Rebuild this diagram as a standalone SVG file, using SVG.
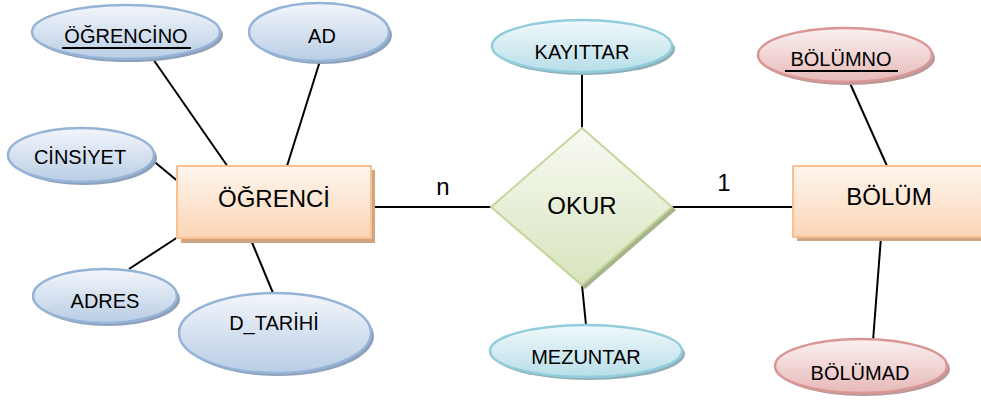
<svg xmlns="http://www.w3.org/2000/svg" width="981" height="405" viewBox="0 0 981 405">
<defs>
<linearGradient id="gBlue" x1="0" y1="0" x2="0" y2="1"><stop offset="0" stop-color="#f3f6fb"/><stop offset="1" stop-color="#b9cde5"/></linearGradient>
<linearGradient id="gCyan" x1="0" y1="0" x2="0" y2="1"><stop offset="0" stop-color="#f1f9fb"/><stop offset="1" stop-color="#b7dee8"/></linearGradient>
<linearGradient id="gRed" x1="0" y1="0" x2="0" y2="1"><stop offset="0" stop-color="#fbf1f1"/><stop offset="1" stop-color="#e6b9b8"/></linearGradient>
<linearGradient id="gOrange" x1="0" y1="0" x2="0" y2="1"><stop offset="0" stop-color="#fef6ef"/><stop offset="1" stop-color="#fbd5b5"/></linearGradient>
<linearGradient id="gGreen" x1="0" y1="0" x2="0" y2="1"><stop offset="0" stop-color="#f8faf3"/><stop offset="1" stop-color="#d7e4bd"/></linearGradient>
</defs>
<style>
.lbl{font-family:"Liberation Sans",Arial,sans-serif;font-size:20px;fill:#000;text-anchor:middle;dominant-baseline:central}
.big{font-size:24px}
.blue{fill:url(#gBlue);stroke:#95b3d7;stroke-width:2.5}
.cyan{fill:url(#gCyan);stroke:#92cddc;stroke-width:2.5}
.red{fill:url(#gRed);stroke:#d99694;stroke-width:2.5}
.orange{fill:url(#gOrange);stroke:#fac08f;stroke-width:2}
.green{fill:url(#gGreen);stroke:#c3d69b;stroke-width:2}
.shB{fill:#8ea0b8}
.shC{fill:#8fb0b8}
.shR{fill:#b89a9a}
.shO{fill:#cfa582}
.shG{fill:#a6b48c}
.conn line{stroke:#000;stroke-width:2}
.ul{stroke:#000;stroke-width:1.8}
</style>
<g class="conn" id="connectors">
<line x1="153" y1="59" x2="228" y2="167"/>
<line x1="320" y1="61" x2="287" y2="166"/>
<line x1="151" y1="159" x2="180" y2="183"/>
<line x1="178" y1="237" x2="129" y2="269"/>
<line x1="251" y1="240" x2="273" y2="293"/>
<line x1="372" y1="207" x2="491" y2="207"/>
<line x1="672" y1="207" x2="793" y2="207"/>
<line x1="582" y1="75" x2="582" y2="128"/>
<line x1="582" y1="285" x2="586" y2="325"/>
<line x1="849" y1="81" x2="887" y2="166"/>
<line x1="881" y1="237" x2="873" y2="341"/>
</g>
<text class="lbl big" x="443" y="186">n</text>
<text class="lbl big" x="724" y="182">1</text>

<g id="ogrencino">
<ellipse class="shB" cx="129" cy="35" rx="94" ry="27"/>
<ellipse class="blue" cx="126" cy="32" rx="94" ry="27"/>
<text class="lbl" x="126" y="36">ÖĞRENCİNO</text>
<line class="ul" x1="62" y1="48" x2="191" y2="48"/>
</g>
<g id="ad">
<ellipse class="shB" cx="322" cy="35" rx="70" ry="29"/>
<ellipse class="blue" cx="319" cy="32" rx="70" ry="29"/>
<text class="lbl" x="322" y="36">AD</text>
</g>
<g id="cinsiyet">
<ellipse class="shB" cx="84" cy="158" rx="73" ry="27"/>
<ellipse class="blue" cx="81" cy="155" rx="73" ry="27"/>
<text class="lbl" x="80" y="157">CİNSİYET</text>
</g>
<g id="adres">
<ellipse class="shB" cx="108" cy="299" rx="72" ry="27"/>
<ellipse class="blue" cx="105" cy="296" rx="72" ry="27"/>
<text class="lbl" x="105" y="301">ADRES</text>
</g>
<g id="dtarihi">
<ellipse class="shB" cx="278" cy="336" rx="96" ry="40"/>
<ellipse class="blue" cx="275" cy="333" rx="96" ry="40"/>
<text class="lbl" x="274" y="323">D_TARİHİ</text>
</g>
<g id="ogrenci">
<rect class="shO" x="181" y="170" width="194" height="73"/>
<rect class="orange" x="177" y="166" width="194" height="72"/>
<text class="lbl big" x="274" y="198">ÖĞRENCİ</text>
</g>
<g id="okur">
<polygon class="shG" points="585,131 676,210 585,289 494,210"/>
<polygon class="green" points="582,128 672,207 582,285 491,207"/>
<text class="lbl big" x="582" y="205">OKUR</text>
</g>
<g id="kayittar">
<ellipse class="shC" cx="585" cy="49" rx="90" ry="26"/>
<ellipse class="cyan" cx="582" cy="46" rx="90" ry="26"/>
<text class="lbl" x="582" y="52">KAYITTAR</text>
</g>
<g id="mezuntar">
<ellipse class="shC" cx="589" cy="354" rx="96" ry="26"/>
<ellipse class="cyan" cx="586" cy="351" rx="96" ry="26"/>
<text class="lbl" x="586" y="357">MEZUNTAR</text>
</g>
<g id="bolum">
<rect class="shO" x="797" y="170" width="190" height="71"/>
<rect class="orange" x="793" y="166" width="190" height="71"/>
<text class="lbl big" x="889" y="196">BÖLÜM</text>
</g>
<g id="bolumno">
<ellipse class="shR" cx="848" cy="58" rx="87" ry="27"/>
<ellipse class="red" cx="845" cy="55" rx="87" ry="27"/>
<text class="lbl" x="841" y="59">BÖLÜMNO</text>
<line class="ul" x1="785" y1="71" x2="898" y2="71"/>
</g>
<g id="bolumad">
<ellipse class="shR" cx="864" cy="369" rx="86" ry="27"/>
<ellipse class="red" cx="861" cy="366" rx="86" ry="27"/>
<text class="lbl" x="860" y="373">BÖLÜMAD</text>
</g>
</svg>
